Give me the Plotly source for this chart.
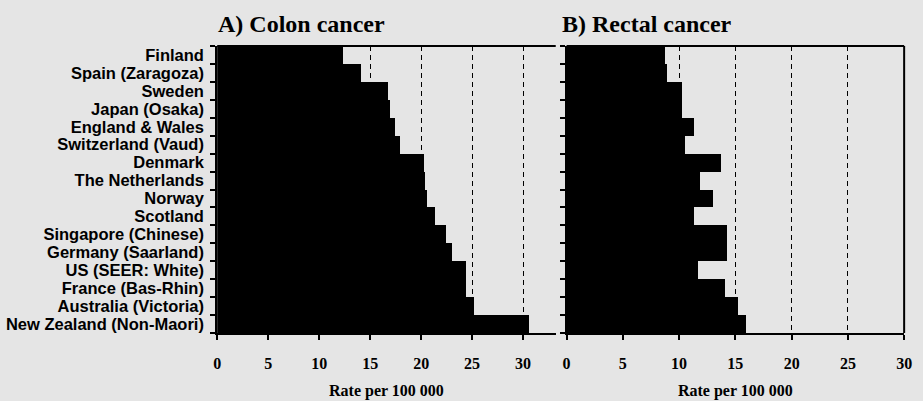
import plotly.graph_objects as go

# Incidence rates per 100 000 by registry
countries = [
    "Finland", "Spain (Zaragoza)", "Sweden", "Japan (Osaka)", "England & Wales",
    "Switzerland (Vaud)", "Denmark", "The Netherlands", "Norway", "Scotland",
    "Singapore (Chinese)", "Germany (Saarland)", "US (SEER: White)",
    "France (Bas-Rhin)", "Australia (Victoria)", "New Zealand (Non-Maori)",
]
colon = [12.4, 14.1, 16.8, 17.0, 17.5, 17.9, 20.3, 20.4, 20.6, 21.4,
         22.5, 23.0, 24.4, 24.4, 25.2, 30.6]
rectal = [8.7, 8.9, 10.2, 10.2, 11.3, 10.5, 13.7, 11.8, 13.0, 11.3,
          14.2, 14.2, 11.6, 14.0, 15.2, 15.9]
x_ticks = [0, 5, 10, 15, 20, 25, 30]
panel_titles = ["A) Colon cancer", "B) Rectal cancer"]
x_title = "Rate per 100 000"

W, H = 923, 401
BG = "#e5e5e5"
SERIF = "Liberation Serif"
SANS = "Liberation Sans"


def px_x(p):
    return p / W


def px_y(p):
    return 1 - p / H


top, bottom = 46, 333
ydom = [px_y(bottom), px_y(top)]

fig = go.Figure()
fig.add_trace(go.Bar(x=colon, y=countries, orientation="h",
                     marker=dict(color="black", line=dict(width=0)),
                     xaxis="x", yaxis="y", showlegend=False))
fig.add_trace(go.Bar(x=rectal, y=countries, orientation="h",
                     marker=dict(color="black", line=dict(width=0)),
                     xaxis="x2", yaxis="y2", showlegend=False))

xcommon = dict(
    tickmode="array", tickvals=x_ticks,
    ticks="outside", ticklen=5, tickwidth=1.5, tickcolor="black",
    ticklabelstandoff=10,
    showline=True, linecolor="black", linewidth=2,
    showgrid=True, gridcolor="black", gridwidth=1.3, griddash="5px,4px",
    zeroline=False,
    tickfont=dict(family=SERIF, size=16, color="black", weight="bold"),
    title=dict(text=x_title, standoff=14,
               font=dict(family=SERIF, size=16, color="black", weight="bold")),
    layer="below traces",
)
ycommon = dict(
    type="category", categoryorder="array", categoryarray=countries,
    tickmode="array", tickvals=countries, ticktext=countries,
    range=[len(countries) - 0.5, -0.5],
    tickson="boundaries", ticks="outside", ticklen=5, tickwidth=1.5, tickcolor="black",
    showline=True, linecolor="black", linewidth=2, showgrid=False, zeroline=False,
)

fig.update_layout(
    width=W, height=H,
    margin=dict(l=0, r=0, t=0, b=0),
    paper_bgcolor=BG, plot_bgcolor=BG,
    bargap=0,
    xaxis=dict(domain=[px_x(216), px_x(559)], range=[0, 33.2], anchor="y", **xcommon),
    xaxis2=dict(domain=[px_x(570), px_x(912)], range=[0, 30], anchor="y2", **xcommon),
    yaxis=dict(domain=ydom, anchor="x", showticklabels=True,
               tickfont=dict(family=SANS, size=16.5, color="black", weight="bold"),
               ticklabelstandoff=8,
               **ycommon),
    yaxis2=dict(domain=ydom, anchor="x2", showticklabels=False, **ycommon),
)

# frame lines: top edges of both panels, right edge of the second panel
fig.add_shape(type="line", xref="x domain", yref="y domain", x0=0, x1=1, y0=1, y1=1,
              line=dict(color="black", width=2))
fig.add_shape(type="line", xref="x2 domain", yref="y2 domain", x0=0, x1=1, y0=1, y1=1,
              line=dict(color="black", width=2))
fig.add_shape(type="line", xref="x2 domain", yref="y2 domain", x0=1, x1=1, y0=0, y1=1,
              line=dict(color="black", width=2))

for xpos, text in zip([215, 563], panel_titles):
    fig.add_annotation(text=text, xref="paper", yref="paper",
                       x=px_x(xpos), y=px_y(24), xanchor="left", yanchor="middle",
                       showarrow=False,
                       font=dict(family=SERIF, size=24, color="black", weight="bold"))

fig.write_html("out.html")
